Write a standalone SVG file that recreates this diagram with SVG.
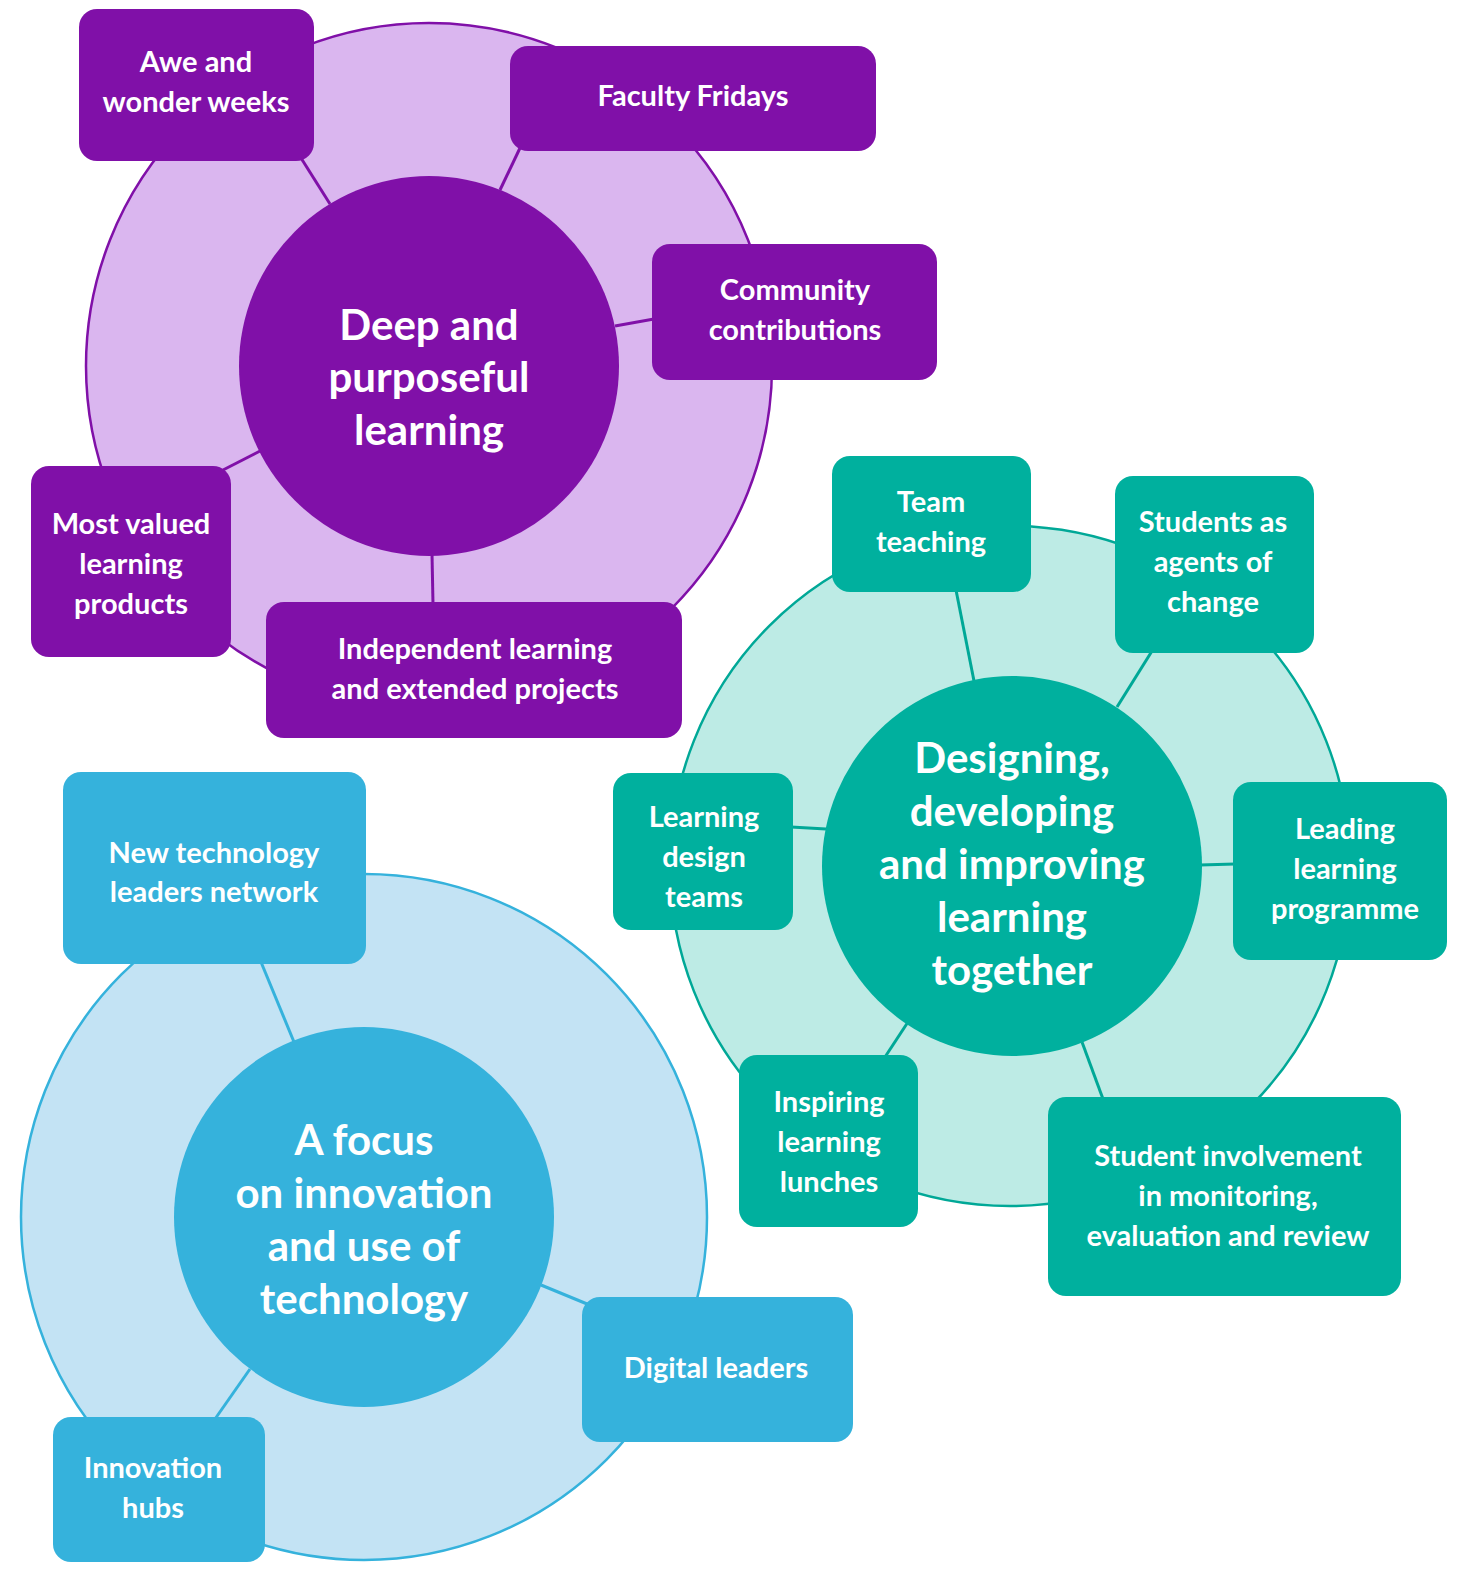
<svg xmlns="http://www.w3.org/2000/svg" width="1474" height="1574" viewBox="0 0 1474 1574">
<style>
text{font-family:Lato,"Noto Sans","DejaVu Sans",sans-serif;font-weight:700;fill:#ffffff;text-anchor:middle}
.box{font-size:29px}
.hub{font-size:42px}
.pD{fill:#8010a8}
.pL{fill:#dab6ef;stroke:#8010a8;stroke-width:2.5}
.tD{fill:#00b09e}
.tL{fill:#bdebe5;stroke:#00a897;stroke-width:2.5}
.bD{fill:#35b2dc}
.bL{fill:#c3e3f4;stroke:#35b2dc;stroke-width:2.5}
.cp{stroke:#8010a8;stroke-width:3;fill:none}
.ct{stroke:#00a897;stroke-width:3;fill:none}
.cb{stroke:#35b2dc;stroke-width:3;fill:none}
</style>
<rect width="1474" height="1574" fill="#ffffff"/>
<g id="rings">
<circle class="pL" cx="429" cy="366" r="343"/>
<circle class="tL" cx="1010" cy="866" r="340"/>
<circle class="bL" cx="364" cy="1217" r="343"/>
</g>
<g id="connectors">
<line class="cp" x1="301" y1="158" x2="330" y2="204"/>
<line class="cp" x1="520" y1="148" x2="500" y2="190"/>
<line class="cp" x1="654" y1="319" x2="615" y2="326"/>
<line class="cp" x1="223" y1="470" x2="262" y2="450"/>
<line class="cp" x1="432" y1="554" x2="433" y2="604"/>
<line class="ct" x1="956" y1="590" x2="974" y2="681"/>
<line class="ct" x1="1152" y1="651" x2="1117" y2="707"/>
<line class="ct" x1="791" y1="827" x2="826" y2="829"/>
<line class="ct" x1="1235" y1="864" x2="1200" y2="865"/>
<line class="ct" x1="885" y1="1057" x2="908" y2="1022"/>
<line class="ct" x1="1103" y1="1099" x2="1082" y2="1042"/>
<line class="cb" x1="261" y1="962" x2="294" y2="1042"/>
<line class="cb" x1="541" y1="1285" x2="592" y2="1306"/>
<line class="cb" x1="215" y1="1419" x2="250" y2="1369"/>
</g>
<g id="hub-deep">
<circle class="pD" cx="429" cy="366" r="190"/>
<text class="hub" x="429" y="340">Deep and</text>
<text class="hub" x="429" y="392">purposeful</text>
<text class="hub" x="429" y="445">learning</text>
</g>
<g id="node-awe">
<rect class="pD" x="79" y="9" width="235" height="152" rx="18"/>
<text class="box" x="196" y="72">Awe and</text>
<text class="box" x="196" y="112">wonder weeks</text>
</g>
<g id="node-faculty">
<rect class="pD" x="510" y="46" width="366" height="105" rx="18"/>
<text class="box" x="693" y="106">Faculty Fridays</text>
</g>
<g id="node-community">
<rect class="pD" x="652" y="244" width="285" height="136" rx="18"/>
<text class="box" x="795" y="300">Community</text>
<text class="box" x="795" y="340">contributions</text>
</g>
<g id="node-most-valued">
<rect class="pD" x="31" y="466" width="200" height="191" rx="18"/>
<text class="box" x="131" y="534">Most valued</text>
<text class="box" x="131" y="574">learning</text>
<text class="box" x="131" y="614">products</text>
</g>
<g id="node-independent">
<rect class="pD" x="266" y="602" width="416" height="136" rx="18"/>
<text class="box" x="475" y="659">Independent learning</text>
<text class="box" x="475" y="699">and extended projects</text>
</g>
<g id="hub-designing">
<circle class="tD" cx="1012" cy="866" r="190"/>
<text class="hub" x="1012" y="773">Designing,</text>
<text class="hub" x="1012" y="826">developing</text>
<text class="hub" x="1012" y="879">and improving</text>
<text class="hub" x="1012" y="932">learning</text>
<text class="hub" x="1012" y="985">together</text>
</g>
<g id="node-team">
<rect class="tD" x="832" y="456" width="199" height="136" rx="18"/>
<text class="box" x="931" y="512">Team</text>
<text class="box" x="931" y="552">teaching</text>
</g>
<g id="node-students-agents">
<rect class="tD" x="1115" y="476" width="199" height="177" rx="18"/>
<text class="box" x="1213" y="532">Students as</text>
<text class="box" x="1213" y="572">agents of</text>
<text class="box" x="1213" y="612">change</text>
</g>
<g id="node-learning-design">
<rect class="tD" x="613" y="773" width="180" height="157" rx="18"/>
<text class="box" x="704" y="827">Learning</text>
<text class="box" x="704" y="867">design</text>
<text class="box" x="704" y="907">teams</text>
</g>
<g id="node-leading">
<rect class="tD" x="1233" y="782" width="214" height="178" rx="18"/>
<text class="box" x="1345" y="839">Leading</text>
<text class="box" x="1345" y="879">learning</text>
<text class="box" x="1345" y="919">programme</text>
</g>
<g id="node-inspiring">
<rect class="tD" x="739" y="1055" width="179" height="172" rx="18"/>
<text class="box" x="829" y="1112">Inspiring</text>
<text class="box" x="829" y="1152">learning</text>
<text class="box" x="829" y="1192">lunches</text>
</g>
<g id="node-student-involvement">
<rect class="tD" x="1048" y="1097" width="353" height="199" rx="18"/>
<text class="box" x="1228" y="1166">Student involvement</text>
<text class="box" x="1228" y="1206">in monitoring,</text>
<text class="box" x="1228" y="1246">evaluation and review</text>
</g>
<g id="hub-focus">
<circle class="bD" cx="364" cy="1217" r="190"/>
<text class="hub" x="364" y="1155">A focus</text>
<text class="hub" x="364" y="1208">on innovation</text>
<text class="hub" x="364" y="1261">and use of</text>
<text class="hub" x="364" y="1314">technology</text>
</g>
<g id="node-new-tech">
<rect class="bD" x="63" y="772" width="303" height="192" rx="18"/>
<text class="box" x="214" y="863">New technology</text>
<text class="box" x="214" y="902">leaders network</text>
</g>
<g id="node-digital">
<rect class="bD" x="582" y="1297" width="271" height="145" rx="18"/>
<text class="box" x="716" y="1378">Digital leaders</text>
</g>
<g id="node-innovation-hubs">
<rect class="bD" x="53" y="1417" width="212" height="145" rx="18"/>
<text class="box" x="153" y="1478">Innovation</text>
<text class="box" x="153" y="1518">hubs</text>
</g>
</svg>
